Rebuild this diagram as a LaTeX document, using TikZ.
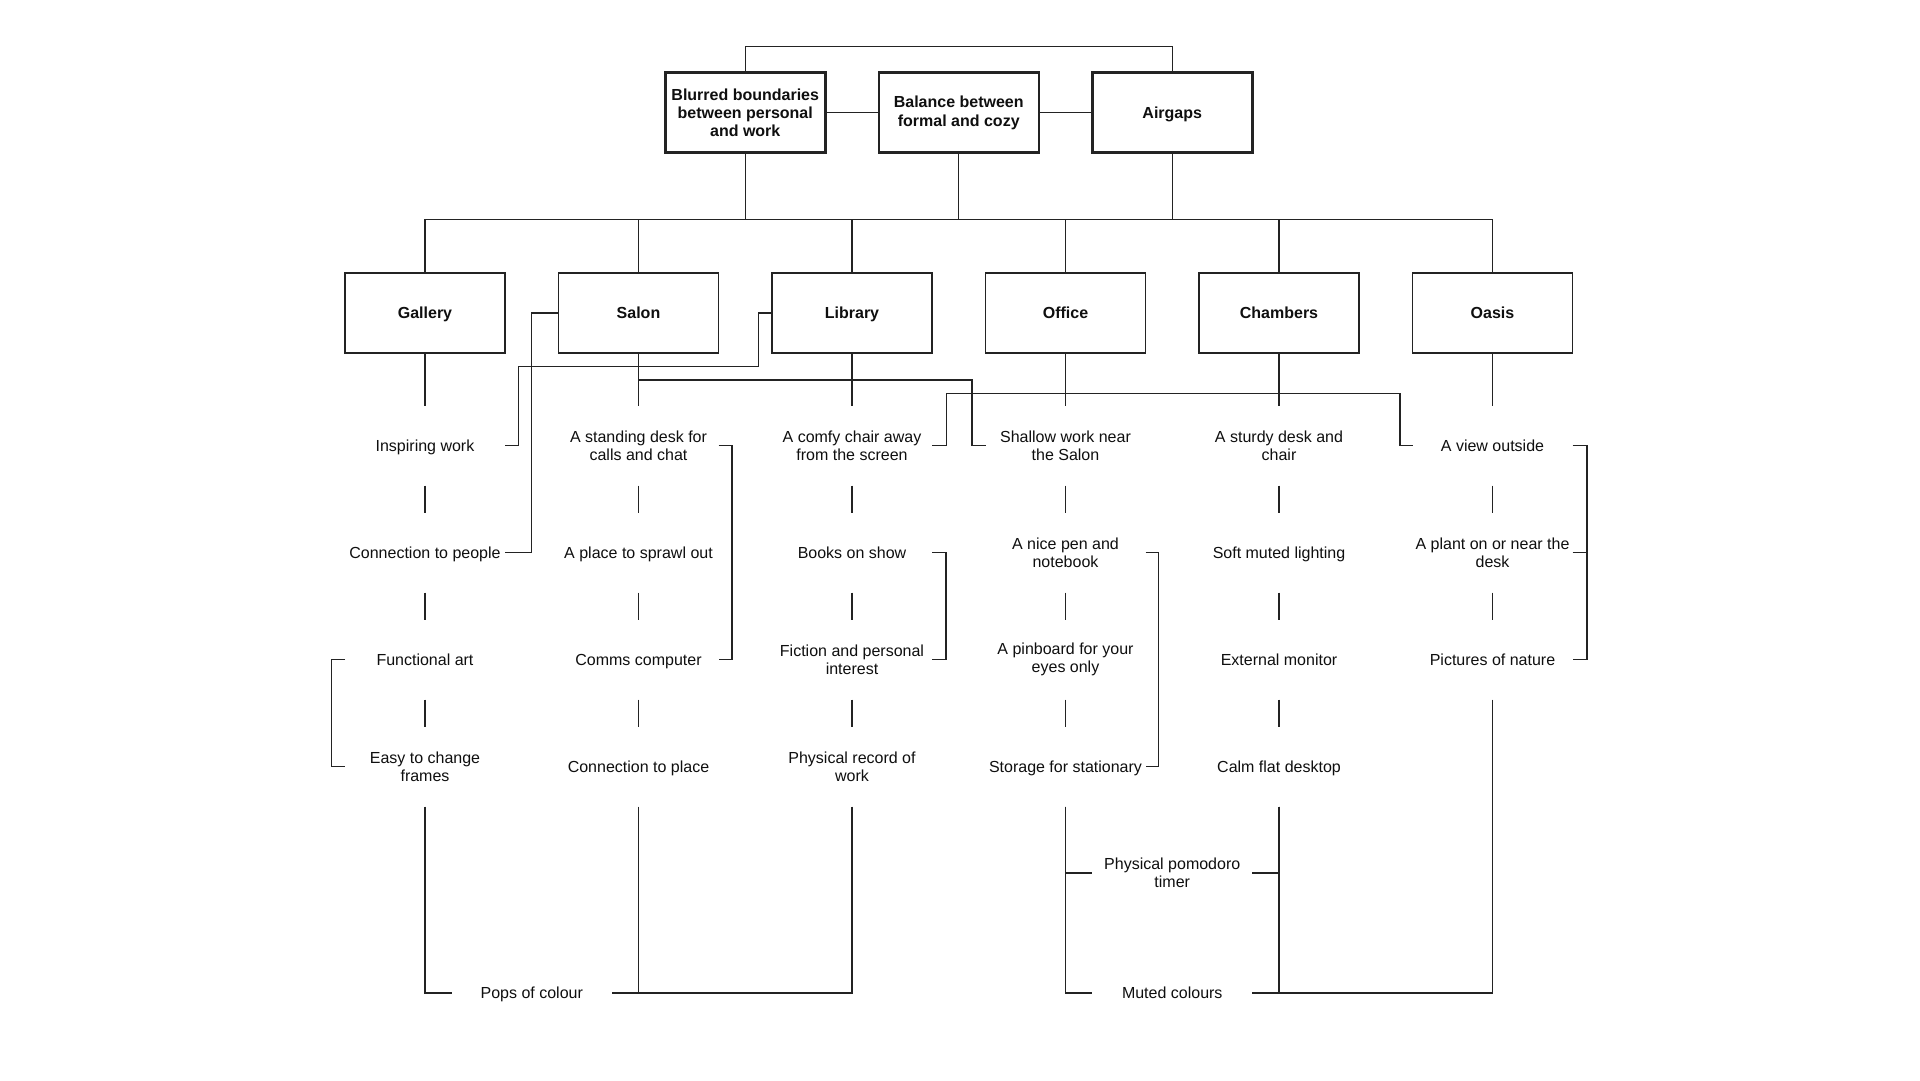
\documentclass[tikz,border=0pt]{standalone}
\usepackage{fontspec}
\setmainfont{Liberation Sans}
\usetikzlibrary{calc}
\definecolor{lc}{RGB}{35,35,35}
\definecolor{tc}{RGB}{15,15,15}
\newcommand\fsz{\fontsize{16}{18.4}\selectfont}
\newcommand\mystrut{\rule[-3.6pt]{0pt}{18.6pt}}
\tikzset{
  even/.style={execute at begin node=\mystrut, execute at end node=\mystrut},
  topbase/.style={draw=lc, line width=2.5pt, minimum width=160pt, minimum height=80pt, align=center, font=\bfseries\fsz, text=tc, inner sep=0pt},
  topbox/.style={topbase, even},
  topboxm/.style={topbase},
  roombox/.style={even, draw=lc, line width=1.4pt, minimum width=160pt, minimum height=80pt, align=center, font=\bfseries\fsz, text=tc, inner sep=0pt},
  labbase/.style={minimum width=160pt, minimum height=80pt, align=center, font=\fsz, text=tc, inner sep=0pt, outer sep=0pt},
  lab/.style={labbase, even},
  labm/.style={labbase},
  conn/.style={draw=lc, line width=1.4pt},
}
\begin{document}
\begin{tikzpicture}[x=1pt,y=-1pt]
\useasboundingbox (0,0) rectangle (1920,1080);
\fill[white] (0,0) rectangle (1920,1080);

% top boxes
\node[topboxm] (t1) at (745.25,112.7) {Blurred boundaries\\between personal\\and work};
\node[topboxm] (t2) at (958.75,112.7) {Balance between\\formal and cozy};
\node[topbox] (t3) at (1172.25,112.7) {Airgaps};

% rooms
\node[roombox] (g) at (425,312.8) {Gallery};
\node[roombox] (s) at (638.5,312.8) {Salon};
\node[roombox] (l) at (852,312.8) {Library};
\node[roombox] (o) at (1065.5,312.8) {Office};
\node[roombox] (c) at (1279,312.8) {Chambers};
\node[roombox] (a) at (1492.5,312.8) {Oasis};

% Gallery labels
\node[lab] (g1) at (425,445.5) {Inspiring work};
\node[lab] (g2) at (425,552.5) {Connection to people};
\node[lab] (g3) at (425,659.5) {Functional art};
\node[labm] (g4) at (425,766.5) {Easy to change\\frames};
% Salon labels
\node[labm] (s1) at (638.5,445.5) {A standing desk for\\calls and chat};
\node[lab] (s2) at (638.5,552.5) {A place to sprawl out};
\node[lab] (s3) at (638.5,659.5) {Comms computer};
\node[lab] (s4) at (638.5,766.5) {Connection to place};
% Library labels
\node[labm] (l1) at (852,445.5) {A comfy chair away\\from the screen};
\node[lab] (l2) at (852,552.5) {Books on show};
\node[labm] (l3) at (852,659.5) {Fiction and personal\\interest};
\node[labm] (l4) at (852,766.5) {Physical record of\\work};
% Office labels
\node[labm] (o1) at (1065.5,445.5) {Shallow work near\\the Salon};
\node[labm] (o2) at (1065.5,552.5) {A nice pen and\\notebook};
\node[labm] (o3) at (1065.5,659.5) {A pinboard for your\\eyes only};
\node[lab] (o4) at (1065.5,766.5) {Storage for stationary};
% Chambers labels
\node[labm] (c1) at (1279,445.5) {A sturdy desk and\\chair};
\node[lab] (c2) at (1279,552.5) {Soft muted lighting};
\node[lab] (c3) at (1279,659.5) {External monitor};
\node[lab] (c4) at (1279,766.5) {Calm flat desktop};
% Oasis labels
\node[lab] (a1) at (1492.5,445.5) {A view outside};
\node[labm] (a2) at (1492.5,552.5) {A plant on or near the\\desk};
\node[lab] (a3) at (1492.5,659.5) {Pictures of nature};
% bottom
\node[labm] (pomo) at (1172.25,873) {Physical pomodoro\\timer};
\node[lab] (pops) at (531.75,993) {Pops of colour};
\node[lab] (muted) at (1172.25,993) {Muted colours};

% helper coordinates
\coordinate (topy) at (0,46.5);
\coordinate (busy) at (0,219.2);
\coordinate (k1) at (531.75,552.5);
\coordinate (k2a) at (758.6,366.7);
\coordinate (k2b) at (518.6,445.5);
\coordinate (k3y) at (0,380);
\coordinate (k3b) at (972,445.5);
\coordinate (k4a) at (946.3,393.3);
\coordinate (k4b) at (1400,445.5);
\coordinate (k5) at (732,0);
\coordinate (k6) at (946,0);
\coordinate (k7) at (331.5,0);
\coordinate (k8) at (1158.5,0);
\coordinate (k9) at (1587,0);

% top connections
\draw[conn] (t1.north) -- (t1.north |- topy) -| (t3.north);
\draw[conn] (t1.east) -- (t2.west);
\draw[conn] (t2.east) -- (t3.west);

% bus
\draw[conn] (t1.south) -- (t1.south |- busy) -| (g.north);
\draw[conn] (t1.south |- busy) -| (s.north);
\draw[conn] (t1.south |- busy) -| (l.north);
\draw[conn] (t2.south) -- (t2.south |- busy) -| (l.north);
\draw[conn] (t2.south |- busy) -| (o.north);
\draw[conn] (t3.south) -- (t3.south |- busy) -| (o.north);
\draw[conn] (t3.south |- busy) -| (c.north);
\draw[conn] (t3.south |- busy) -| (a.north);

% column chains
\foreach \r in {g,s,l,o,c}{
  \draw[conn] (\r.south) -- (\r1.north);
  \draw[conn] (\r1.south) -- (\r2.north);
  \draw[conn] (\r2.south) -- (\r3.north);
  \draw[conn] (\r3.south) -- (\r4.north);
}
\draw[conn] (a.south) -- (a1.north);
\draw[conn] (a1.south) -- (a2.north);
\draw[conn] (a2.south) -- (a3.north);

% cross links
\draw[conn] (s.west) -| (k1) -- (g2.east);
\draw[conn] (l.west) -| (k2a) -| (k2b) -- (g1.east);
\draw[conn] (s.south) -- (s.south |- k3y) -| (k3b) -- (o1.west);
\draw[conn] (l1.east) -| (k4a) -| (k4b) -- (a1.west);

% brackets
\draw[conn] (s1.east) -- (s1.east -| k5) |- (s3.east);
\draw[conn] (l2.east) -- (l2.east -| k6) |- (l3.east);
\draw[conn] (g3.west) -- (g3.west -| k7) |- (g4.west);
\draw[conn] (o2.east) -- (o2.east -| k8) |- (o4.east);
\draw[conn] (a1.east) -- (a1.east -| k9) |- (a3.east);
\draw[conn] (a2.east) -- (a2.east -| k9);

% bottom links
\draw[conn] (g4.south) |- (pops.west);
\draw[conn] (s4.south) |- (pops.east);
\draw[conn] (l4.south) |- (pops.east);
\draw[conn] (o4.south) |- (pomo.west);
\draw[conn] (o4.south) |- (muted.west);
\draw[conn] (c4.south) |- (pomo.east);
\draw[conn] (c4.south) |- (muted.east);
\draw[conn] (a3.south) |- (muted.east);
\end{tikzpicture}
\end{document}
